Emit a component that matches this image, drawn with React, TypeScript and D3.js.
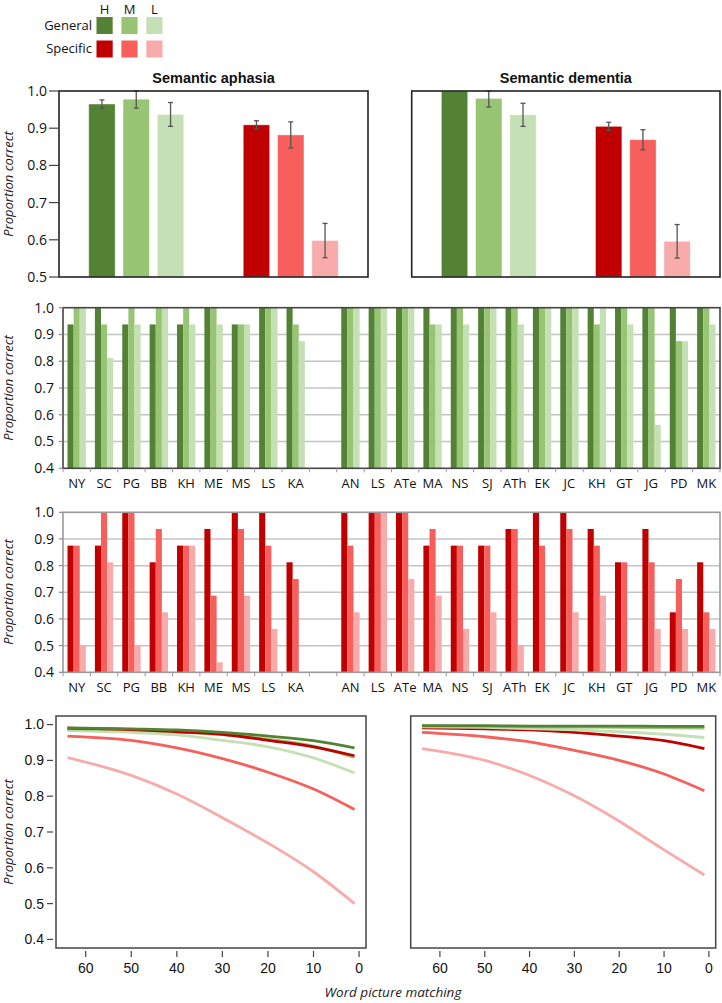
import React from "react";
import * as d3 from "d3";

// ---------- data ----------
const levels = ["H", "M", "L"];
const groupNames = ["General", "Specific"];
const panelTitles = ["Semantic aphasia", "Semantic dementia"];

// top panels: group means and error (half-length)
const saGeneralMean = [0.965, 0.978, 0.937];
const saGeneralErr = [0.011, 0.024, 0.032];
const saSpecificMean = [0.909, 0.882, 0.598];
const saSpecificErr = [0.011, 0.035, 0.046];
const sdGeneralMean = [1.0, 0.98, 0.936];
const sdGeneralErr = [0, 0.023, 0.031];
const sdSpecificMean = [0.905, 0.869, 0.596];
const sdSpecificErr = [0.011, 0.027, 0.045];

// individual patients
const saPatients = ["NY", "SC", "PG", "BB", "KH", "ME", "MS", "LS", "KA"];
const sdPatients = ["AN", "LS", "ATe", "MA", "NS", "SJ", "ATh", "EK", "JC", "KH", "GT", "JG", "PD", "MK"];

const generalH = [0.9375, 1, 0.9375, 0.9375, 0.9375, 1, 0.9375, 1, 1, 1, 1, 1, 1, 1, 1, 1, 1, 1, 1, 1, 1, 1, 1];
const generalM = [1, 0.9375, 1, 1, 1, 1, 0.9375, 1, 0.9375, 1, 1, 1, 0.9375, 1, 1, 1, 1, 1, 0.9375, 1, 1, 0.875, 1];
const generalL = [1, 0.8125, 0.9375, 1, 0.9375, 0.9375, 0.9375, 1, 0.875, 1, 1, 1, 0.9375, 0.9375, 1, 0.9375, 1, 1, 1, 0.9375, 0.5625, 0.875, 0.9375];

const specificH = [0.875, 0.875, 1, 0.8125, 0.875, 0.9375, 1, 1, 0.8125, 1, 1, 1, 0.875, 0.875, 0.875, 0.9375, 1, 1, 0.9375, 0.8125, 0.9375, 0.625, 0.8125];
const specificM = [0.875, 1, 1, 0.9375, 0.875, 0.6875, 0.9375, 0.875, 0.75, 0.875, 1, 1, 0.9375, 0.875, 0.875, 0.9375, 0.875, 0.9375, 0.875, 0.8125, 0.8125, 0.75, 0.625];
const specificL = [0.5, 0.8125, 0.5, 0.625, 0.875, 0.4375, 0.6875, 0.5625, 0.4, 0.625, 1, 0.75, 0.6875, 0.5625, 0.625, 0.5, 0.4, 0.625, 0.6875, 0.4, 0.5625, 0.5625, 0.5625];

// fitted curves vs word picture matching
const wpmX = [64, 50, 40, 30, 20, 10, 1];
const saGenH = [0.991, 0.988, 0.985, 0.978, 0.968, 0.955, 0.935];
const saGenM = [0.988, 0.985, 0.98, 0.972, 0.959, 0.94, 0.908];
const saGenL = [0.983, 0.978, 0.971, 0.956, 0.938, 0.907, 0.865];
const saSpecH = [0.99, 0.986, 0.98, 0.973, 0.956, 0.938, 0.913];
const saSpecM = [0.968, 0.956, 0.935, 0.905, 0.867, 0.82, 0.763];
const saSpecL = [0.908, 0.858, 0.806, 0.74, 0.669, 0.589, 0.5];

const sdGenH = [0.997, 0.997, 0.996, 0.996, 0.996, 0.995, 0.995];
const sdGenM = [0.996, 0.995, 0.994, 0.993, 0.992, 0.991, 0.99];
const sdGenL = [0.994, 0.992, 0.989, 0.985, 0.98, 0.973, 0.964];
const sdSpecH = [0.991, 0.988, 0.985, 0.978, 0.968, 0.955, 0.933];
const sdSpecM = [0.978, 0.966, 0.952, 0.928, 0.9, 0.862, 0.815];
const sdSpecL = [0.933, 0.9, 0.858, 0.801, 0.73, 0.65, 0.58];

const topTicks = [0.5, 0.6, 0.7, 0.8, 0.9, 1.0];
const midTicks = [0.4, 0.5, 0.6, 0.7, 0.8, 0.9, 1.0];
const curveXTicks = [60, 50, 40, 30, 20, 10, 0];
const curveYTicks = [0.4, 0.5, 0.6, 0.7, 0.8, 0.9, 1.0];

// ---------- styles ----------
const genColors = ["#548235", "#97c574", "#c5e0b4"];
const specColors = ["#c00000", "#f65f5b", "#f8abab"];
const SANS = "'Open Sans', 'DejaVu Sans', sans-serif";
const ARIAL = "'Liberation Sans', Arial, sans-serif";

function YTitle({ cy }: { cy: number }) {
  return (
    <text
      transform={`translate(13,${cy}) rotate(-90)`}
      textAnchor="middle"
      fontStyle="italic"
      fontSize={13}
      fontFamily={SANS}
      fill="#222"
    >
      Proportion correct
    </text>
  );
}

function TopPanel(props: any) {
  const { x0, x1, y0, y1, gen, genErr, spec, specErr, title, showY } = props;
  const y = d3.scaleLinear().domain([0.5, 1]).range([y1, y0]);
  const outer = d3.scaleBand<string>().domain(groupNames).range([x0, x1]).paddingInner(0.385).paddingOuter(0.1925);
  const inner = d3.scaleBand<string>().domain(levels).range([0, outer.bandwidth()]).paddingInner(0.23);
  const groups = [
    { name: "General", vals: gen, errs: genErr, colors: genColors },
    { name: "Specific", vals: spec, errs: specErr, colors: specColors },
  ];
  return (
    <g>
      <text x={(x0 + x1) / 2} y={y0 - 8} textAnchor="middle" fontWeight="bold" fontSize={14.5} fontFamily={ARIAL} fill="#111">
        {title}
      </text>
      {groups.map((g) =>
        levels.map((lv, i) => {
          const v = Math.min(g.vals[i], 1);
          const bx = (outer(g.name) as number) + (inner(lv) as number);
          return (
            <rect key={g.name + lv} x={bx} y={y(v)} width={inner.bandwidth()} height={y1 - y(v)} fill={g.colors[i]} stroke="#ffffff" strokeOpacity={0.5} strokeWidth={0.8} />
          );
        })
      )}
      {groups.map((g) =>
        levels.map((lv, i) => {
          const e = g.errs[i];
          if (!e) return null;
          const cx = (outer(g.name) as number) + (inner(lv) as number) + inner.bandwidth() / 2;
          const top = y(Math.min(g.vals[i] + e, 1));
          const bot = y(g.vals[i] - e);
          return (
            <g key={"e" + g.name + lv} stroke="#555" strokeWidth={1.3}>
              <line x1={cx} x2={cx} y1={top} y2={bot} />
              <line x1={cx - 2.5} x2={cx + 2.5} y1={top} y2={top} />
              <line x1={cx - 2.5} x2={cx + 2.5} y1={bot} y2={bot} />
            </g>
          );
        })
      )}
      <rect x={x0} y={y0} width={x1 - x0} height={y1 - y0} fill="none" stroke="#222" strokeWidth={1.6} />
      {showY &&
        topTicks.map((t) => (
          <g key={t}>
            <line x1={x0 - 10} x2={x0} y1={y(t)} y2={y(t)} stroke="#444" strokeWidth={1.2} />
            <text x={x0 - 12} y={y(t)} dy="0.35em" textAnchor="end" fontSize={14} fontFamily={SANS} fill="#111">
              {t.toFixed(1)}
            </text>
          </g>
        ))}
    </g>
  );
}

function PatientPanel(props: any) {
  const { x0, x1, y0, y1, H, M, L, colors, frameColor } = props;
  const keys = [...saPatients.map((p) => "sa-" + p), "gap", ...sdPatients.map((p) => "sd-" + p)];
  const labels = [...saPatients, "", ...sdPatients];
  const vals = (arr: number[]) => [...arr.slice(0, saPatients.length), null, ...arr.slice(saPatients.length)];
  const series = [vals(H), vals(M), vals(L)];
  const x = d3.scaleBand<string>().domain(keys).range([x0, x1]).paddingInner(0.33).paddingOuter(0.165);
  const inner = d3.scaleBand<string>().domain(levels).range([0, x.bandwidth()]);
  const y = d3.scaleLinear().domain([0.4, 1]).range([y1, y0]);
  const step = x.step();
  return (
    <g>
      {midTicks.slice(1, -1).map((t) => (
        <line key={"g" + t} x1={x0} x2={x1} y1={y(t)} y2={y(t)} stroke="#c4c4c4" strokeWidth={1.5} />
      ))}
      {keys.map((k, ki) =>
        levels.map((lv, li) => {
          const v = series[li][ki];
          if (v == null) return null;
          const bx = (x(k) as number) + (inner(lv) as number);
          return <rect key={k + lv} x={bx} y={y(v)} width={inner.bandwidth()} height={y1 - y(v)} fill={colors[li]} />;
        })
      )}
      <rect x={x0} y={y0} width={x1 - x0} height={y1 - y0} fill="none" stroke={frameColor} strokeWidth={1.6} />
      {midTicks.map((t) => (
        <g key={t}>
          <line x1={x0 - 4} x2={x0} y1={y(t)} y2={y(t)} stroke="#888" strokeWidth={1.2} />
          <text x={x0 - 9} y={y(t)} dy="0.35em" textAnchor="end" fontSize={14} fontFamily={SANS} fill="#111">
            {t.toFixed(1)}
          </text>
        </g>
      ))}
      {d3.range(keys.length + 1).map((i) => (
        <line key={"t" + i} x1={x0 + i * step} x2={x0 + i * step} y1={y1} y2={y1 + 4} stroke="#999" strokeWidth={1} />
      ))}
      {keys.map((k, ki) => (
        <text key={"l" + k} x={(x(k) as number) + x.bandwidth() / 2} y={y1 + 20} textAnchor="middle" fontSize={13} fontFamily={SANS} fill="#111">
          {labels[ki]}
        </text>
      ))}
    </g>
  );
}

function CurvePanel(props: any) {
  const { x0, x1, y0, y1, curves, showY } = props;
  const x = d3.scaleLinear().domain([66.52, -1.52]).range([x0, x1]);
  const y = d3.scaleLinear().domain([0.376, 1.024]).range([y1, y0]);
  const line = d3
    .line<number>()
    .x((_, i) => x(wpmX[i]))
    .y((d) => y(d))
    .curve(d3.curveMonotoneX);
  return (
    <g>
      <rect x={x0} y={y0} width={x1 - x0} height={y1 - y0} fill="none" stroke="#444" strokeWidth={1.5} />
      {curves.map((c: any, i: number) => (
        <path key={i} d={line(c.vals) as string} fill="none" stroke={c.color} strokeWidth={2.8} />
      ))}
      {curveXTicks.map((t) => (
        <g key={t}>
          <line x1={x(t)} x2={x(t)} y1={y1 + 3} y2={y1 + 9} stroke="#444" strokeWidth={1.2} />
          <text x={x(t)} y={y1 + 25} textAnchor="middle" fontSize={14} fontFamily={ARIAL} fill="#111">
            {t}
          </text>
        </g>
      ))}
      {showY &&
        curveYTicks.map((t) => (
          <g key={t}>
            <line x1={x0 - 9} x2={x0 - 3} y1={y(t)} y2={y(t)} stroke="#444" strokeWidth={1.2} />
            <text x={x0 - 12} y={y(t)} dy="0.35em" textAnchor="end" fontSize={14} fontFamily={ARIAL} fill="#111">
              {t.toFixed(1)}
            </text>
          </g>
        ))}
    </g>
  );
}

function Legend() {
  const x = d3.scaleBand<string>().domain(levels).range([96.5, 162.5]).paddingInner(0.35);
  const rows = [
    { name: groupNames[0], colors: genColors, y: 17 },
    { name: groupNames[1], colors: specColors, y: 40.5 },
  ];
  return (
    <g fontFamily={SANS} fontSize={13} fill="#111">
      {levels.map((lv) => (
        <text key={lv} x={(x(lv) as number) + x.bandwidth() / 2} y={14} textAnchor="middle">
          {lv}
        </text>
      ))}
      {rows.map((r) => (
        <g key={r.name}>
          <text x={92} y={r.y + 12.5} textAnchor="end">
            {r.name}
          </text>
          {levels.map((lv, i) => (
            <rect key={lv} x={x(lv) as number} y={r.y} width={x.bandwidth()} height={17} fill={r.colors[i]} />
          ))}
        </g>
      ))}
    </g>
  );
}

export default function App() {
  const saCurves = [
    { vals: saSpecL, color: specColors[2] },
    { vals: saSpecM, color: specColors[1] },
    { vals: saGenL, color: genColors[2] },
    { vals: saGenM, color: genColors[1] },
    { vals: saSpecH, color: specColors[0] },
    { vals: saGenH, color: genColors[0] },
  ];
  const sdCurves = [
    { vals: sdSpecL, color: specColors[2] },
    { vals: sdSpecM, color: specColors[1] },
    { vals: sdSpecH, color: specColors[0] },
    { vals: sdGenL, color: genColors[2] },
    { vals: sdGenM, color: genColors[1] },
    { vals: sdGenH, color: genColors[0] },
  ];
  return (
    <svg width={722} height={1003} style={{ position: "absolute", left: 0, top: 0, background: "#fff" }}>
      <rect width={722} height={1003} fill="#fff" />
      <Legend />
      <TopPanel x0={59} x1={368} y0={91} y1={277} gen={saGeneralMean} genErr={saGeneralErr} spec={saSpecificMean} specErr={saSpecificErr} title={panelTitles[0]} showY />
      <TopPanel x0={411.7} x1={720} y0={91} y1={277} gen={sdGeneralMean} genErr={sdGeneralErr} spec={sdSpecificMean} specErr={sdSpecificErr} title={panelTitles[1]} showY={false} />
      <YTitle cy={184} />
      <PatientPanel x0={63} x1={720} y0={307.7} y1={468.3} H={generalH} M={generalM} L={generalL} colors={genColors} frameColor="#444" />
      <YTitle cy={388} />
      <PatientPanel x0={63} x1={720} y0={512.3} y1={672.3} H={specificH} M={specificM} L={specificL} colors={specColors} frameColor="#9a9a9a" />
      <YTitle cy={592} />
      <CurvePanel x0={56} x1={366} y0={716} y1={948} curves={saCurves} showY />
      <CurvePanel x0={410.7} x1={715.7} y0={716} y1={948} curves={sdCurves} showY={false} />
      <YTitle cy={832} />
      <text x={393} y={997} textAnchor="middle" fontStyle="italic" fontSize={13.5} fontFamily={SANS} fill="#222">
        Word picture matching
      </text>
    </svg>
  );
}
